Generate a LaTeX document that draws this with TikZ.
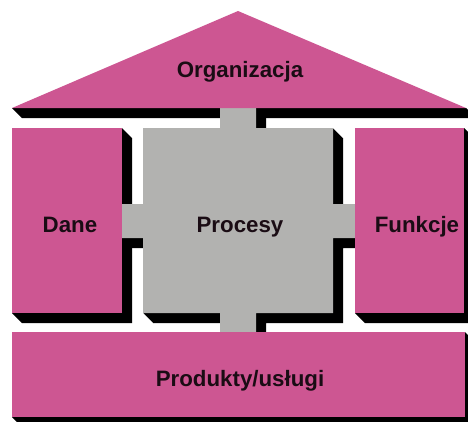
\documentclass[tikz,border=0pt]{standalone}
\usepackage{fontspec}
\setmainfont{Liberation Sans}
\definecolor{housepink}{RGB}{205,86,146}
\definecolor{housegray}{RGB}{178,178,176}
\definecolor{labelink}{RGB}{26,12,20}
\begin{document}
\begin{tikzpicture}[x=1pt,y=-1pt,
  pinkpart/.style={fill=housepink},
  graypart/.style={fill=housegray},
  extrusion/.style={fill=black},
  caption/.style={font=\bfseries\fontsize{22.3}{27}\selectfont,
                  text=labelink, inner sep=0pt, anchor=base}]
\useasboundingbox (0,0) rectangle (468,421);
\clip (0,0) rectangle (468,421);
\fill[white] (0,0) rectangle (468,421);

% extruded edges of the roof and the two side pillars
\fill[extrusion] (12,108) -- (22,118) -- (476,118) -- (466,108) -- cycle;
\fill[extrusion] (12,313) -- (22,323) -- (132,323) -- (132,138) -- (122,128) -- (122,313) -- cycle;
\fill[extrusion] (355,313) -- (365,323) -- (474,323) -- (474,138) -- (464,128) -- (464,313) -- cycle;

% the central cross: extrusion built from stacked shifted copies
\foreach \s in {1,...,20} {
  \fill[extrusion, shift={(\s*0.5,\s*0.5)}]
    (220,100) -- (256,100) -- (256,128) -- (333,128) -- (333,204) -- (360,204)
    -- (360,238) -- (333,238) -- (333,313) -- (256,313) -- (256,340) -- (220,340)
    -- (220,313) -- (143,313) -- (143,238) -- (115,238) -- (115,204) -- (143,204)
    -- (143,128) -- (220,128) -- cycle;
}
\fill[graypart]
    (220,100) -- (256,100) -- (256,128) -- (333,128) -- (333,204) -- (360,204)
    -- (360,238) -- (333,238) -- (333,313) -- (256,313) -- (256,340) -- (220,340)
    -- (220,313) -- (143,313) -- (143,238) -- (115,238) -- (115,204) -- (143,204)
    -- (143,128) -- (220,128) -- cycle;

% roof and side pillars
\fill[pinkpart] (12,108) -- (238,11) -- (466,108) -- cycle;
\fill[pinkpart] (12,128) rectangle (122,313);
\fill[pinkpart] (355,128) rectangle (464,313);

% foundation
\fill[extrusion] (12,417) -- (22,427) -- (475,427) -- (475,342) -- (465,332) -- (465,417) -- cycle;
\fill[pinkpart] (12,332) rectangle (465,417);

% labels
\node[caption] (org)  at (240,77)    {Organizacja};
\node[caption] (dane) at (70,232.5)  {Dane};
\node[caption] (proc) at (240,232.5) {Procesy};
\node[caption] (funk) at (417,232.5) {Funkcje};
\node[caption] (prod) at (240,386)   {Produkty/usługi};
\end{tikzpicture}
\end{document}
